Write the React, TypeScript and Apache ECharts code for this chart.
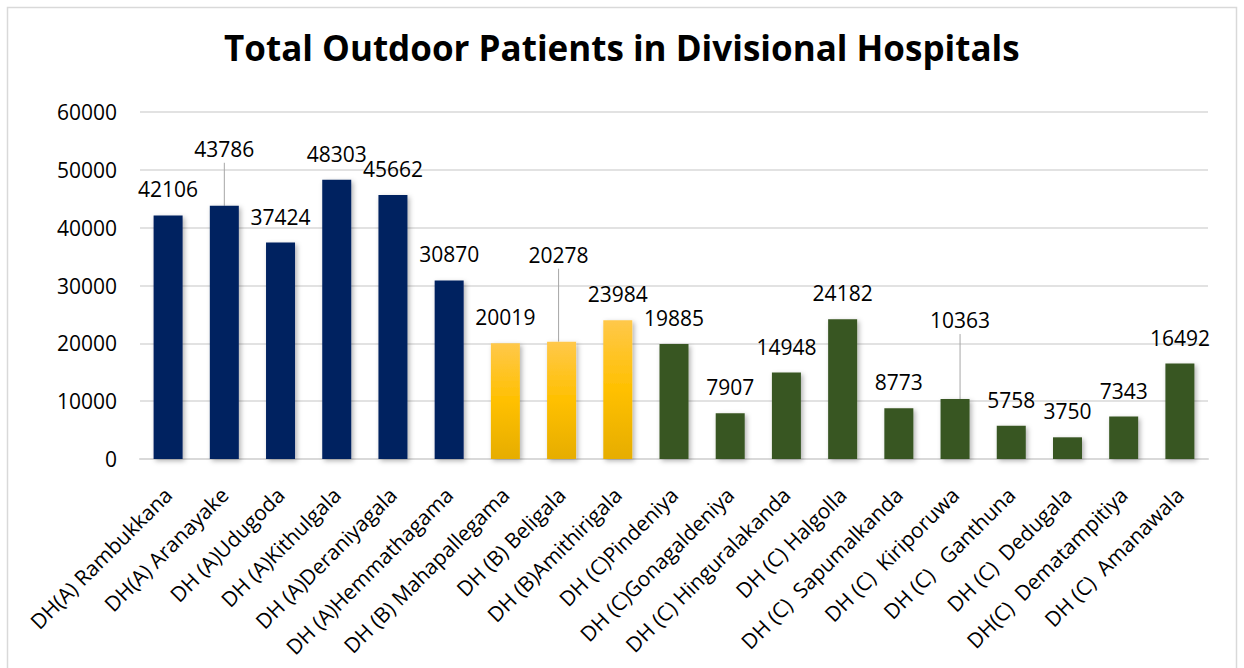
import React, { useEffect, useRef } from "react";
import * as echarts from "echarts";

const titleText = "Total Outdoor Patients in Divisional Hospitals";

const categories = [
  "DH(A) Rambukkana",
  "DH(A) Aranayake",
  "DH (A)Udugoda",
  "DH (A)Kithulgala",
  "DH (A)Deraniyagala",
  "DH (A)Hemmathagama",
  "DH (B) Mahapallegama",
  "DH (B) Beligala",
  "DH (B)Amithirigala",
  "DH (C)Pindeniya",
  "DH (C)Gonagaldeniya",
  "DH (C) Hinguralakanda",
  "DH (C) Halgolla",
  "DH (C)  Sapumalkanda",
  "DH (C)  Kiriporuwa",
  "DH (C)   Ganthuna",
  "DH (C)  Dedugala",
  "DH(C)  Dematampitiya",
  "DH (C)  Amanawala",
];

const patients = [
  42106, 43786, 37424, 48303, 45662, 30870, 20019, 20278, 23984, 19885, 7907,
  14948, 24182, 8773, 10363, 5758, 3750, 7343, 16492,
];

const hospitalClass = [
  "A", "A", "A", "A", "A", "A", "B", "B", "B", "C", "C", "C", "C", "C", "C",
  "C", "C", "C", "C",
];

const yTicks = { min: 0, max: 60000, interval: 10000 };

// label displacements (px) for labels with leader lines
const labelShift: Record<number, [number, number]> = {
  1: [0, -31],
  7: [-3, -61],
  14: [5, -53],
};

const FONT = "'Open Sans', 'Noto Sans', sans-serif";

export default function App() {
  const ref = useRef<HTMLDivElement>(null);

  useEffect(() => {
    if (!ref.current) return;
    const chart = echarts.init(ref.current, undefined, { renderer: "svg" });

    const yellow = new echarts.graphic.LinearGradient(0, 0, 0, 1, [
      { offset: 0, color: "#ffc84a" },
      { offset: 0.5, color: "#ffc000" },
      { offset: 1, color: "#e6ad00" },
    ]);
    const colorFor = (c: string) =>
      c === "A" ? "#002060" : c === "B" ? yellow : "#385723";

    const data = patients.map((v, i) => ({
      value: v,
      itemStyle: { color: colorFor(hospitalClass[i]) },
      labelLine: { show: !!labelShift[i] },
    }));

    chart.setOption({
      animation: false,
      backgroundColor: "#ffffff",
      title: {
        text: titleText,
        left: 219,
        top: 25,
        textStyle: {
          fontFamily: FONT,
          fontWeight: "bold",
          fontSize: 35,
          color: "#000000",
        },
      },
      graphic: [
        {
          type: "rect",
          shape: { x: 7.5, y: 7.5, width: 1229, height: 700 },
          style: { fill: "none", stroke: "#d9d9d9", lineWidth: 1.5 },
          silent: true,
        },
      ],
      grid: { left: 140, right: 36, top: 112, bottom: 209, containLabel: false },
      xAxis: {
        type: "category",
        data: categories,
        axisLine: { show: true, lineStyle: { color: "#d9d9d9", width: 2 } },
        axisTick: { show: false },
        axisLabel: {
          rotate: 45,
          margin: 32,
          interval: 0,
          fontFamily: FONT,
          fontSize: 21,
          color: "#000000",
        },
      },
      yAxis: {
        type: "value",
        min: yTicks.min,
        max: yTicks.max,
        interval: yTicks.interval,
        axisLine: { show: false },
        axisTick: { show: false },
        splitLine: { lineStyle: { color: "#d9d9d9", width: 1.5 } },
        axisLabel: {
          margin: 23,
          fontFamily: FONT,
          fontSize: 21,
          color: "#000000",
          formatter: (v: number) => String(v),
        },
      },
      series: [
        {
          type: "bar",
          data,
          barWidth: 29,
          itemStyle: {
            shadowColor: "rgba(0,0,0,0.3)",
            shadowBlur: 5,
            shadowOffsetX: 2,
            shadowOffsetY: 2,
          },
          label: {
            show: true,
            position: "top",
            distance: 12,
            fontFamily: FONT,
            fontSize: 21,
            lineHeight: 28,
            color: "#000000",
          },
          labelLine: {
            show: false,
            lineStyle: { color: "#a6a6a6", width: 1 },
          },
          labelLayout: (params: any) => {
            const s = labelShift[params.dataIndex];
            if (!s) return {};
            return { dx: s[0], dy: s[1] };
          },
        },
      ],
    });

    return () => chart.dispose();
  }, []);

  return (
    <div
      ref={ref}
      style={{ position: "fixed", left: 0, top: 0, width: 1244, height: 668 }}
    />
  );
}
